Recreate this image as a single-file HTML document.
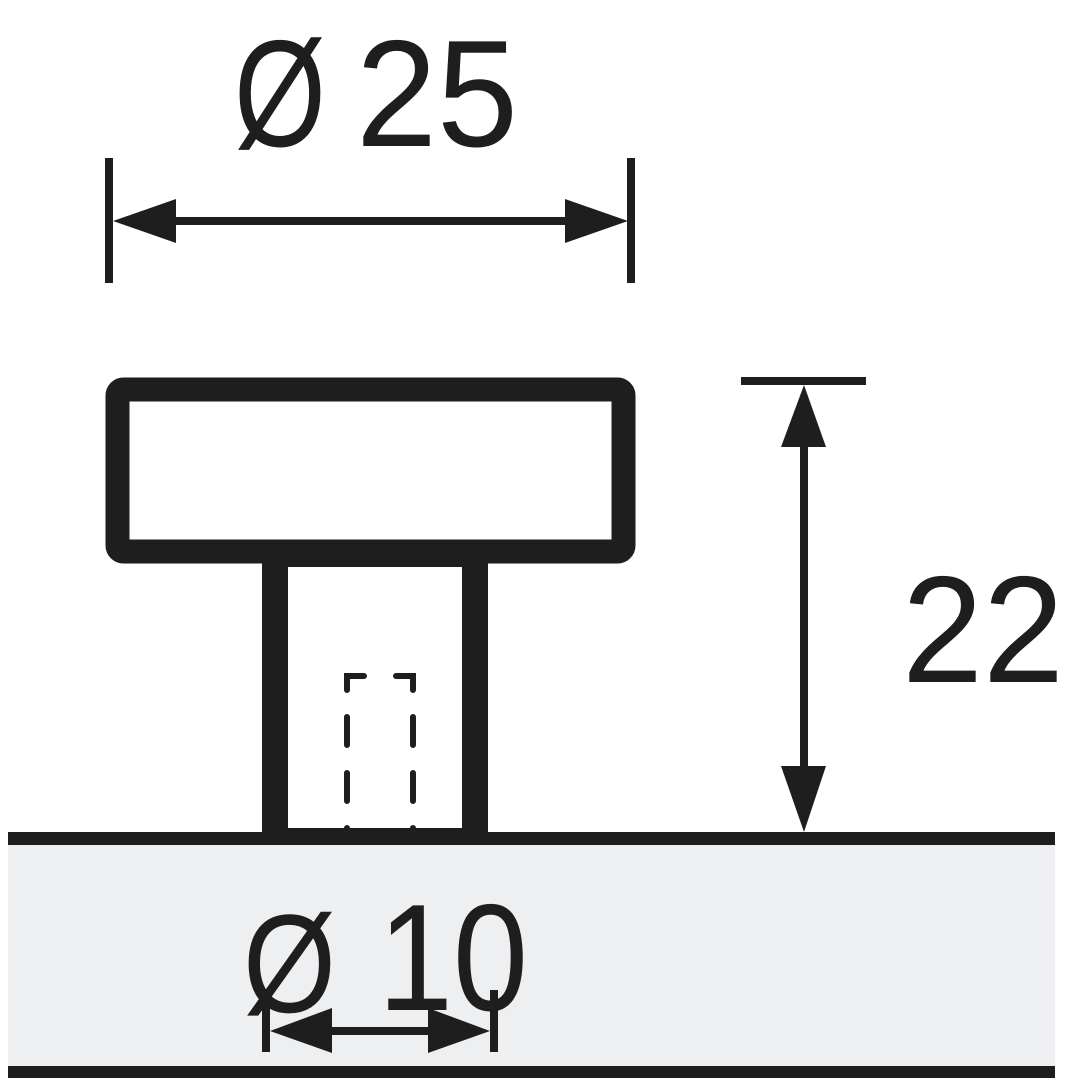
<!DOCTYPE html>
<html><head><meta charset="utf-8"><style>html,body{margin:0;padding:0;background:#fff}svg{display:block}</style></head>
<body>
<svg width="1080" height="1080" viewBox="0 0 1080 1080" xmlns="http://www.w3.org/2000/svg">
<g fill="#1e1e1e" stroke="none" font-family="Liberation Sans, sans-serif">
<!-- gray ground -->
<rect x="8" y="845" width="1047" height="221" fill="#eeeff1"/>
<rect x="8" y="832" width="1047" height="13"/>
<rect x="8" y="1066" width="1047" height="12"/>

<!-- top dimension -->
<rect x="105" y="158" width="8" height="125"/>
<rect x="627" y="158" width="8" height="125"/>
<rect x="170" y="217" width="400" height="8"/>
<polygon points="113,221 176,199 176,243"/>
<polygon points="628,221 565,199 565,243"/>
<text x="234" y="146" font-size="152" textLength="92" lengthAdjust="spacingAndGlyphs">Ø</text>
<text x="356" y="146" font-size="152" textLength="162" lengthAdjust="spacingAndGlyphs">25</text>

<!-- knob head -->
<rect x="117.5" y="389.5" width="506" height="162" rx="6" fill="none" stroke="#1e1e1e" stroke-width="24"/>
<!-- stem -->
<rect x="262" y="551" width="26" height="284"/>
<rect x="462" y="551" width="26" height="284"/>
<rect x="288" y="562" width="174" height="5"/>
<rect x="288" y="828" width="174" height="5"/>
<!-- dashed hole -->
<g stroke="#1e1e1e" stroke-width="6" stroke-linecap="round" fill="none">
<path d="M347,690 V676 H364"/>
<path d="M413,690 V676 H396"/>
<path d="M347,717 V745 M347,773 V801 M347,828 V830"/>
<path d="M413,717 V745 M413,773 V801 M413,828 V830"/>
</g>

<!-- right dimension -->
<rect x="741" y="377" width="125" height="8"/>
<rect x="800" y="440" width="8" height="332"/>
<polygon points="804,385 781,447 826,447"/>
<polygon points="804,832 781,766 826,766"/>
<text x="902" y="682" font-size="152" textLength="162" lengthAdjust="spacingAndGlyphs">22</text>

<!-- bottom dimension -->
<text x="243" y="1012" font-size="140" textLength="93" lengthAdjust="spacingAndGlyphs">Ø</text>
<text x="378" y="1010" font-size="152" textLength="150" lengthAdjust="spacingAndGlyphs">10</text>
<rect x="262" y="1003" width="8" height="49"/>
<rect x="490" y="990" width="8" height="62"/>
<rect x="325" y="1027" width="110" height="8"/>
<polygon points="270,1031 332,1008 332,1053"/>
<polygon points="490,1031 428,1008 428,1053"/>
</g>
</svg>
</body></html>
